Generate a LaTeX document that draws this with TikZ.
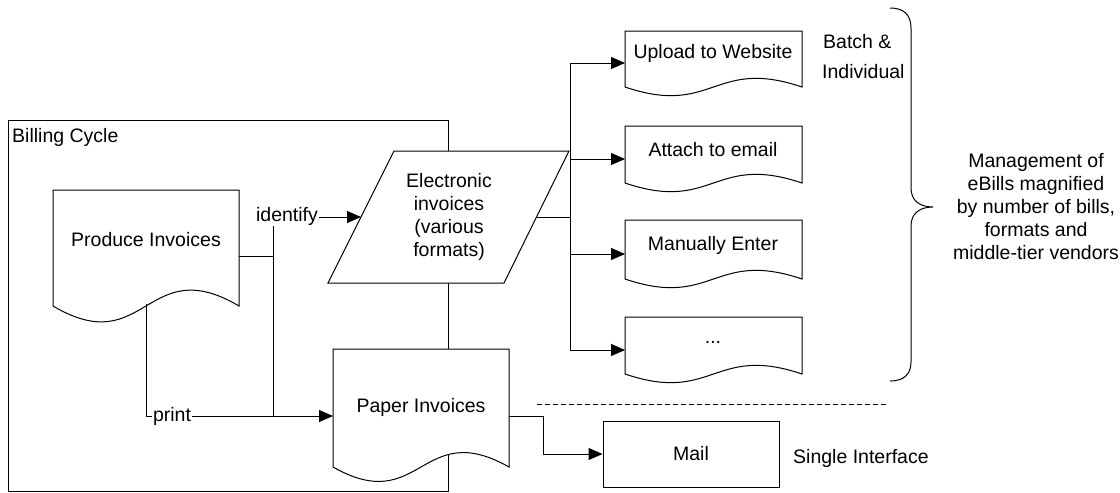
\documentclass[tikz,border=0pt]{standalone}
\usepackage{fontspec}
\setmainfont{Liberation Sans}
\usetikzlibrary{arrows.meta}
\tikzset{
  ln/.style={line width=1pt, draw=black},
  arr/.style={ln, -{Triangle[length=14pt,width=12pt]}},
  shp/.style={line width=1pt, draw=black, fill=white},
  txt/.style={inner sep=0pt, font=\fontsize{19.5}{23}\selectfont, align=center},
  lbl/.style={txt, fill=white, inner sep=1pt},
}
\newcommand\docpath[5]{% left, top, right, side-bottom y, wave depth
  \path[shp] (#1,#2) -- (#3,#2) -- (#3,#4)
    .. controls ({(#1+#3)/2},{#4-#5}) and ({(#1+#3)/2},{#4+#5}) .. (#1,#4) -- cycle;
}
\begin{document}
\begin{tikzpicture}[x=1pt,y=-1pt]
\useasboundingbox (0,0) rectangle (1120,493);
% Billing cycle frame
\draw[ln] (8,120) rectangle (448,491);
\node[txt, anchor=west] (billing) at (12,137) {Billing Cycle};
% shapes
\docpath{53}{190}{239}{306}{55}
\node[txt] (prod) at (146,240) {Produce Invoices};
\docpath{333}{349}{509}{467}{50}
\node[txt] (paper) at (421,407) {Paper Invoices};
\path[shp] (394,151) -- (569,151) -- (504,283) -- (328,283) -- cycle;
\node[txt] (elec) at (449,217) {Electronic\\invoices\\(various\\formats)};
\docpath{625}{31}{802}{87}{30}
\node[txt] (upl) at (713,53) {Upload to Website};
\docpath{625}{126}{802}{183}{30}
\node[txt] (att) at (713,150) {Attach to email};
\docpath{625}{220}{802}{279}{30}
\node[txt] (man) at (713,245) {Manually Enter};
\docpath{625}{317}{802}{374}{30}
\node[txt] (dots) at (713,342) {...};
\node[shp, minimum width=176pt, minimum height=66pt, inner sep=0pt] (mail) at (691,454) {};
\node[txt] at (mail.center) {Mail};
% connection points
\coordinate (prodE) at (239,256);
\coordinate (prodS) at (146,304);
\coordinate (jn) at (273,256);
\coordinate (jp) at (273,416);
\coordinate (elecW) at (361,217);
\coordinate (elecE) at (537,217);
\coordinate (paperW) at (333,416);
\coordinate (paperE) at (509,416);
\coordinate (bus) at (570,217);
\coordinate (uplW) at (625,63);
\coordinate (attW) at (625,159);
\coordinate (manW) at (625,254);
\coordinate (dotsW) at (625,350);
% connectors
\draw[ln] (prodE) -- (jn);
\draw[arr] (jn) -- (273,217) -- (elecW);
\node[lbl] (ident) at (287,216) {identify};
\draw[ln] (jn) -- (jp);
\draw[arr] (prodS) -- (146,416) -- (paperW);
\node[lbl] (print) at (172,416) {print};
\draw[ln] (elecE) -- (bus);
\draw[ln] (570,63) -- (570,350);
\draw[arr] (bus |- uplW) -- (uplW);
\draw[arr] (bus |- attW) -- (attW);
\draw[arr] (bus |- manW) -- (manW);
\draw[arr] (bus |- dotsW) -- (dotsW);
\draw[arr] (paperE) -| (543,454) -- (mail.west);
\draw[ln, dashed, dash pattern=on 5pt off 3pt] (537,404) -- (887,404);
% brace
\draw[ln] (890,8) .. controls (903,8) and (911,14) .. (911,28) -- (911,188)
  .. controls (911,200) and (919,207) .. (933,207)
  .. controls (919,207) and (911,214) .. (911,226) -- (911,362)
  .. controls (911,375) and (903,381) .. (890,381);
% side texts
\node[txt, anchor=west] (batch) at (823,42) {Batch \&};
\node[txt, anchor=west] (indiv) at (822,72) {Individual};
\node[txt] (mgmt) at (1036,207) {Management of\\eBills magnified\\by number of bills,\\formats and\\middle-tier vendors};
\node[txt, anchor=west] (single) at (793,458) {Single Interface};
\end{tikzpicture}
\end{document}
